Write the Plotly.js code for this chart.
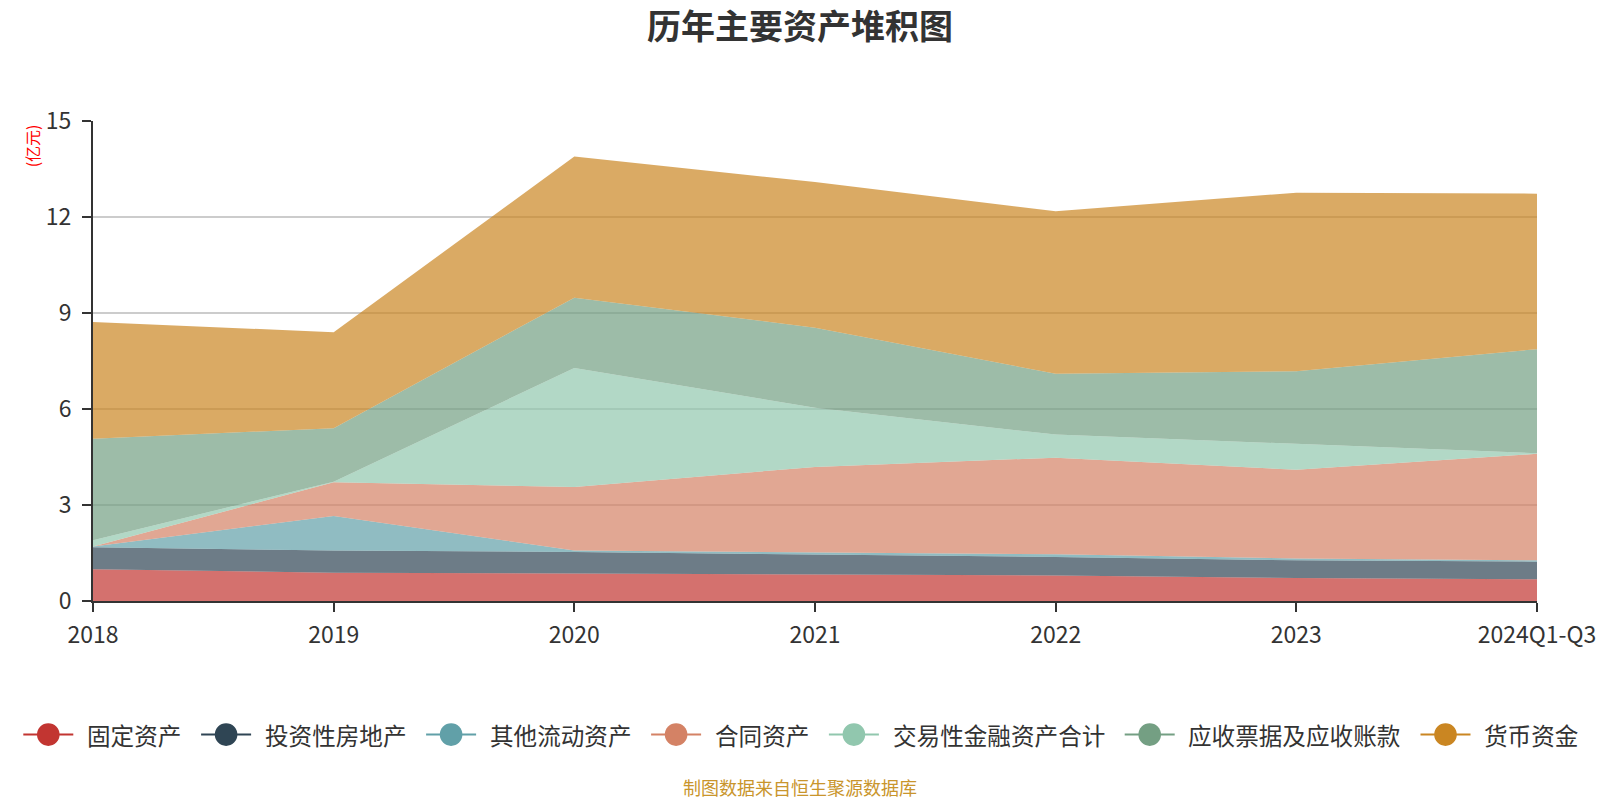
<!DOCTYPE html>
<html>
<head>
<meta charset="utf-8">
<script src="https://cdn.plot.ly/plotly-3.0.1.min.js"></script>
<style>
  html, body { margin: 0; padding: 0; background: #fff; }
  #chart { width: 1600px; height: 800px; }
</style>
</head>
<body>
<div id="chart"></div>
<script>
// ---- data (亿元) ----
const categories = ["2018", "2019", "2020", "2021", "2022", "2023", "2024Q1-Q3"];
const fixedAssets        = [0.99, 0.885, 0.86, 0.82, 0.80, 0.72, 0.68];   // 固定资产
const investmentProperty = [0.69, 0.695, 0.67, 0.63, 0.575, 0.55, 0.55];  // 投资性房地产
const otherCurrentAssets = [0.02, 1.08, 0.05, 0.06, 0.085, 0.06, 0.04];  // 其他流动资产
const contractAssets     = [0.00, 1.05, 1.98, 2.68, 3.02, 2.77, 3.33];   // 合同资产
const tradingFinancial   = [0.20, 0.02, 3.72, 1.85, 0.72, 0.82, 0.02];   // 交易性金融资产合计
const receivables        = [3.17, 1.67, 2.20, 2.50, 1.90, 2.26, 3.25];   // 应收票据及应收账款
const monetaryFunds      = [3.65, 3.00, 4.41, 4.55, 5.08, 5.58, 4.86];   // 货币资金

const seriesNames = ["固定资产", "投资性房地产", "其他流动资产", "合同资产", "交易性金融资产合计", "应收票据及应收账款", "货币资金"];
const seriesValues = [fixedAssets, investmentProperty, otherCurrentAssets, contractAssets, tradingFinancial, receivables, monetaryFunds];
const seriesColors = ["#c23531", "#2f4554", "#61a0a8", "#d48265", "#91c7ae", "#749f83", "#ca8622"];

const titleText = "历年主要资产堆积图";
const unitText = "(亿元)";
const sourceText = "制图数据来自恒生聚源数据库";
const yTicks = [0, 3, 6, 9, 12, 15];

// ---- helpers ----
function hexToRgba(hex, a) {
  const n = parseInt(hex.slice(1), 16);
  return "rgba(" + ((n >> 16) & 255) + "," + ((n >> 8) & 255) + "," + (n & 255) + "," + a + ")";
}

const W = 1600, H = 800;
const M = { l: 93, r: 63, t: 120.7, b: 199.3 };
const PW = W - M.l - M.r, PH = H - M.t - M.b;
const px2x = px => (px - M.l) / PW;
const px2y = py => (H - M.b - py) / PH;

const FONT = "'Noto Sans CJK SC', 'Noto Sans', sans-serif";

const traces = seriesNames.map((name, i) => ({
  type: "scatter",
  mode: "lines",
  name: name,
  x: categories,
  y: seriesValues[i],
  stackgroup: "assets",
  line: { width: 0, color: seriesColors[i] },
  fillcolor: hexToRgba(seriesColors[i], 0.7),
  showlegend: false,
  hoverinfo: "x+y+name"
}));

// ---- manual legend (line + circle + label), laid out from names ----
const shapes = [];
const annotations = [];
const legendY = 734.3;
const charW = 23.6;
let s = 23.3;
seriesNames.forEach((name, i) => {
  const c = seriesColors[i];
  shapes.push({
    type: "line", xref: "paper", yref: "paper",
    x0: px2x(s), x1: px2x(s + 50), y0: px2y(legendY), y1: px2y(legendY),
    line: { color: c, width: 2 }
  });
  const r = 11.3, cx = s + 25;
  shapes.push({
    type: "circle", xref: "paper", yref: "paper",
    x0: px2x(cx - r), x1: px2x(cx + r), y0: px2y(legendY + r), y1: px2y(legendY - r),
    fillcolor: c, line: { width: 0 }
  });
  const tx = s + 61.7;
  annotations.push({
    xref: "paper", yref: "paper", x: px2x(tx), y: px2y(legendY),
    xanchor: "left", yanchor: "middle", showarrow: false,
    text: name, font: { family: FONT, size: charW, color: "#333" }
  });
  s = tx + name.length * charW + 21.7;
});

// unit label
annotations.push({
  xref: "paper", yref: "paper", x: px2x(31.5), y: px2y(145.5),
  xanchor: "center", yanchor: "middle", showarrow: false, textangle: -90,
  text: unitText, font: { family: FONT, size: 16, color: "#ff0000" }
});
// source
annotations.push({
  xref: "paper", yref: "paper", x: px2x(800), y: px2y(786.5),
  xanchor: "center", yanchor: "middle", showarrow: false,
  text: sourceText, font: { family: FONT, size: 18, color: "#c9952c" }
});

const layout = {
  width: W, height: H,
  margin: M,
  paper_bgcolor: "#fff",
  plot_bgcolor: "#fff",
  font: { family: FONT, color: "#333" },
  title: {
    text: titleText,
    x: 0.5, xref: "container", xanchor: "center",
    y: 1 - 27 / H, yref: "container", yanchor: "middle",
    font: { family: FONT, size: 34, color: "#333", weight: "bold" }
  },
  showlegend: false,
  xaxis: {
    type: "category",
    categoryorder: "array",
    categoryarray: categories,
    range: [0, categories.length - 1],
    showgrid: false,
    zeroline: false,
    showline: true, linecolor: "#333", linewidth: 2,
    ticks: "outside", ticklen: 9, tickwidth: 2, tickcolor: "#333",
    tickfont: { family: FONT, size: 23, color: "#333" },
    ticklabelstandoff: 3,
    fixedrange: true
  },
  yaxis: {
    range: [0, 15],
    tickvals: yTicks,
    showgrid: true, gridcolor: "#cccccc", gridwidth: 1.5,
    zeroline: false,
    showline: true, linecolor: "#333", linewidth: 2,
    ticks: "outside", ticklen: 9, tickwidth: 2, tickcolor: "#333",
    tickfont: { family: FONT, size: 23, color: "#333" },
    ticklabelstandoff: 6,
    fixedrange: true
  },
  shapes: shapes,
  annotations: annotations
};

Plotly.newPlot("chart", traces, layout, { displayModeBar: false, staticPlot: true });
</script>
</body>
</html>
